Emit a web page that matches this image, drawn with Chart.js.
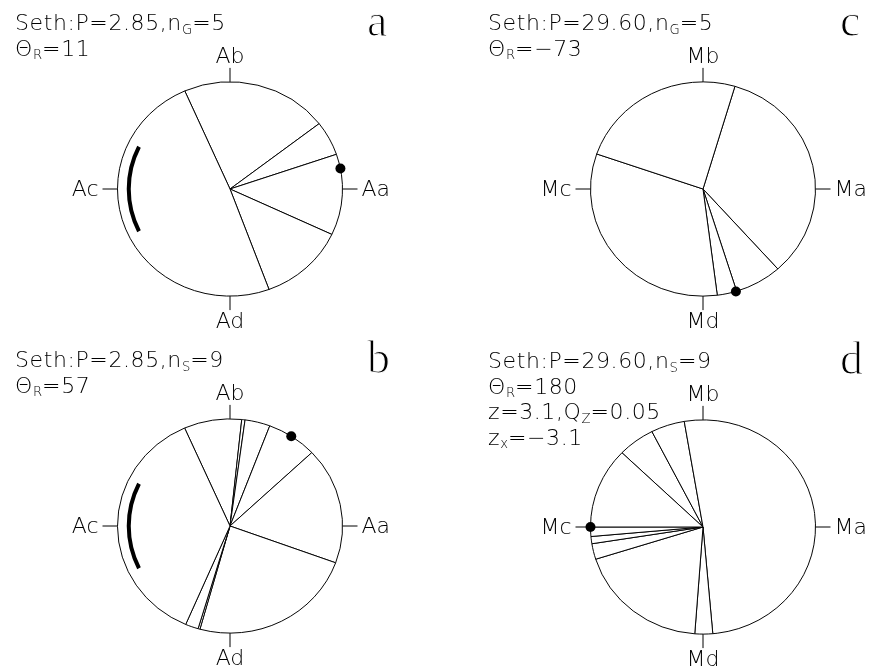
<!DOCTYPE html>
<html>
<head>
<meta charset="utf-8">
<script src="https://cdn.jsdelivr.net/npm/chart.js@4.4.1/dist/chart.umd.min.js"></script>
<style>
  html, body { margin: 0; padding: 0; background: #fff; overflow: hidden; }
  body { width: 874px; height: 671px; position: relative; }
  .panel { position: absolute; width: 400px; height: 335px; }
  .panel canvas { position: absolute; left: 0; top: 0; }
  .info {
    position: absolute; left: 15px; top: 10px;
    font-family: "DejaVu Sans", sans-serif; font-weight: 200;
    font-size: 22px; line-height: 25.5px; letter-spacing: 0.6px; color: #000;
    white-space: nowrap;
  }
  .info sub {
    font-size: 0.6em; vertical-align: baseline; position: relative;
    top: 0.3em; line-height: 0; letter-spacing: 0;
  }
  .tag {
    position: absolute; left: 367px; top: -6px;
    font-family: "Liberation Serif", "DejaVu Serif", serif;
    font-size: 46px; color: #000;
    -webkit-text-stroke: 1.2px #fff;
  }
</style>
</head>
<body>

<div class="panel" style="left:0;top:0"><canvas id="pa" width="400" height="335"></canvas>
  <div class="info">Seth:P=2.85,n<sub>G</sub>=5<br>Θ<sub>R</sub>=11</div>
  <div class="tag">a</div></div>
<div class="panel" style="left:0;top:337px"><canvas id="pb" width="400" height="335"></canvas>
  <div class="info">Seth:P=2.85,n<sub>S</sub>=9<br>Θ<sub>R</sub>=57</div>
  <div class="tag">b</div></div>
<div class="panel" style="left:473px;top:0"><canvas id="pc" width="400" height="335"></canvas>
  <div class="info">Seth:P=29.60,n<sub>G</sub>=5<br>Θ<sub>R</sub>=−73</div>
  <div class="tag">c</div></div>
<div class="panel" style="left:473px;top:338px"><canvas id="pd" width="400" height="335"></canvas>
  <div class="info">Seth:P=29.60,n<sub>S</sub>=9<br>Θ<sub>R</sub>=180<br>z=3.1,Q<sub>Z</sub>=0.05<br>z<sub>x</sub>=−3.1</div>
  <div class="tag">d</div></div>

<script>
// slice widths in degrees, clockwise from the first boundary
var slicesA = [76.1, 18.7, 44, 44.6, 176.6];
var slicesB = [29.8, 1.7, 13, 26, 63.4, 85.4, 1, 6.7, 133];
var slicesC = [121.8, 24.3, 10.1, 116.4, 87.4];
var slicesD = [19.1, 17.4, 184.6, 9.2, 68.3, 8.5, 3.9, 5.1, 43.9];

// first boundary (degrees, counter-clockwise from east)
var startA = 113.7, startB = 113.8, startC = 73.5, startD = 136.1;

// mean direction theta_R
var thetaA = 11, thetaB = 57, thetaC = -73, thetaD = 180;

// thick arc range (degrees)
var arcA = [154, 206];
var arcB = [154, 206];

var labelsA = ["Aa", "Ab", "Ac", "Ad"];
var labelsM = ["Ma", "Mb", "Mc", "Md"];

var squash = 0.952;   // circles are drawn slightly flattened
var rad = Math.PI / 180;

var circPlugin = {
  id: "circ",
  beforeDatasetsDraw: function (chart) {
    var arc = chart.getDatasetMeta(0).data[0];
    var ctx = chart.ctx;
    ctx.save();
    ctx.translate(arc.x, arc.y);
    ctx.scale(1, squash);
    ctx.translate(-arc.x, -arc.y);
  },
  afterDatasetsDraw: function (chart) {
    var ctx = chart.ctx;
    ctx.restore();
    var opts = chart.options.plugins.circ;
    var arc = chart.getDatasetMeta(0).data[0];
    var cx = arc.x, cy = arc.y, rx = arc.outerRadius, ry = arc.outerRadius * squash;
    var lab = opts.labels;

    // compass ticks
    ctx.save();
    ctx.strokeStyle = "#000";
    ctx.lineWidth = 1;
    ctx.beginPath();
    ctx.moveTo(cx + rx, cy); ctx.lineTo(cx + rx + 15, cy);
    ctx.moveTo(cx - rx, cy); ctx.lineTo(cx - rx - 15, cy);
    ctx.moveTo(cx, cy - ry); ctx.lineTo(cx, cy - ry - 14);
    ctx.moveTo(cx, cy + ry); ctx.lineTo(cx, cy + ry + 14);
    ctx.stroke();

    ctx.fillStyle = "#000";
    ctx.font = "200 22px 'DejaVu Sans'";
    ctx.textBaseline = "middle";
    ctx.textAlign = "left";
    ctx.fillText(lab[0], cx + rx + 19, cy + 1);
    ctx.textAlign = "right";
    ctx.fillText(lab[2], cx - rx - 19, cy + 1);
    ctx.textAlign = "center";
    ctx.textBaseline = "alphabetic";
    ctx.fillText(lab[1], cx, cy - ry - 19);
    ctx.fillText(lab[3], cx, cy + ry + 32);

    // thick arc
    if (opts.arc) {
      ctx.beginPath();
      ctx.lineWidth = 4;
      ctx.ellipse(cx, cy, rx * 0.9, ry * 0.9, 0, -opts.arc[1] * rad, -opts.arc[0] * rad);
      ctx.stroke();
    }

    // mean direction dot
    var t = opts.theta * rad;
    ctx.beginPath();
    ctx.arc(cx + rx * Math.cos(t), cy - ry * Math.sin(t), 5, 0, 2 * Math.PI);
    ctx.fill();
    ctx.restore();
  }
};

function makePanel(id, slices, start, theta, labels, arcRange) {
  var ctx = document.getElementById(id).getContext("2d");
  return new Chart(ctx, {
    type: "pie",
    data: {
      labels: slices.map(function (v, i) { return "s" + (i + 1); }),
      datasets: [{
        data: slices,
        backgroundColor: "#fff",
        borderColor: "#000",
        borderWidth: 1,
        hoverOffset: 0,
      }],
    },
    options: {
      responsive: false,
      animation: false,
      rotation: 90 - start,
      layout: { padding: { left: 117, right: 57, top: 76, bottom: 33 } },
      plugins: {
        legend: { display: false },
        tooltip: { enabled: false },
        circ: { theta: theta, labels: labels, arc: arcRange },
      },
      events: [],
    },
    plugins: [circPlugin],
  });
}

makePanel("pa", slicesA, startA, thetaA, labelsA, arcA);
makePanel("pb", slicesB, startB, thetaB, labelsA, arcB);
makePanel("pc", slicesC, startC, thetaC, labelsM, null);
makePanel("pd", slicesD, startD, thetaD, labelsM, null);
</script>
</body>
</html>
